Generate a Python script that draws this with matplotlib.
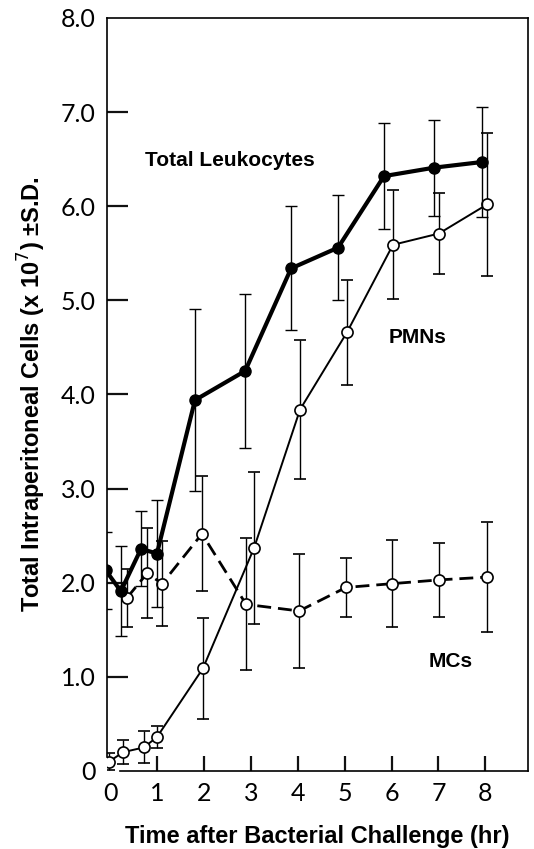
import matplotlib
matplotlib.use("Agg")
import matplotlib.pyplot as plt

# time points (hr) as drawn for each curve
total_t = [-0.09, 0.23, 0.66, 1.0, 1.81, 2.88, 3.86, 4.86, 5.84, 6.91, 7.93]
total_v = [2.13, 1.91, 2.36, 2.31, 3.94, 4.25, 5.34, 5.56, 6.32, 6.41, 6.47]
total_sd = [0.41, 0.48, 0.40, 0.57, 0.97, 0.82, 0.66, 0.56, 0.56, 0.51, 0.58]

pmn_t = [-0.02, 0.28, 0.72, 1.0, 1.98, 3.07, 4.05, 5.05, 6.03, 7.01, 8.04]
pmn_v = [0.10, 0.20, 0.25, 0.36, 1.09, 2.37, 3.84, 4.66, 5.59, 5.71, 6.02]
pmn_sd = [0.09, 0.13, 0.17, 0.12, 0.54, 0.81, 0.74, 0.56, 0.58, 0.43, 0.76]

mc_t = [0.36, 0.79, 1.11, 1.96, 2.90, 4.03, 5.03, 6.01, 7.01, 8.04]
mc_v = [1.84, 2.10, 1.99, 2.52, 1.77, 1.70, 1.95, 1.99, 2.03, 2.06]
mc_sd = [0.31, 0.48, 0.45, 0.61, 0.70, 0.61, 0.31, 0.46, 0.39, 0.58]

x_ticks = [1, 2, 3, 4, 5, 6, 7, 8]
x_labels = ["1", "2", "3", "4", "5", "6", "7", "8"]
y_ticks = [1, 2, 3, 4, 5, 6, 7]
y_labels = ["1.0", "2.0", "3.0", "4.0", "5.0", "6.0", "7.0"]
# end labels drawn without a tick mark
y_end_ticks = [0, 8]
y_end_labels = ["0", "8.0"]

fig = plt.figure(figsize=(5.34, 8.49), dpi=100)
ax = fig.add_axes([0.2004, 0.0919, 0.7884, 0.8869])

thin = dict(family="Lato", size=18)
bold = dict(family="Liberation Sans", weight="bold")

# MCs - dashed, open circles
ax.errorbar(mc_t, mc_v, yerr=mc_sd, color="black", lw=2, ls=(0, (5, 2.5)),
            marker="o", ms=8, mfc="white", mec="black", mew=1.2,
            ecolor="black", elinewidth=1, capsize=4, capthick=1, zorder=3)
# PMNs - thin solid, open circles
ax.errorbar(pmn_t, pmn_v, yerr=pmn_sd, color="black", lw=1.4,
            marker="o", ms=8, mfc="white", mec="black", mew=1.2,
            ecolor="black", elinewidth=1, capsize=4, capthick=1, zorder=4)
# Total leukocytes - thick solid, filled circles
ax.errorbar(total_t, total_v, yerr=total_sd, color="black", lw=3,
            marker="o", ms=8, mfc="black", mec="black",
            ecolor="black", elinewidth=1, capsize=4, capthick=1, zorder=5)

ax.set_xlim(-0.065, 8.91)
ax.set_ylim(0, 8)

ax.spines["bottom"].set_bounds(0.22, 8.91)
ax.spines["left"].set_bounds(0.15, 8)
for s in ax.spines.values():
    s.set_linewidth(1.2)

ax.set_yticks(y_ticks)
ax.set_yticklabels(y_labels, **thin)
ax.set_yticks(y_end_ticks, minor=True)
ax.set_yticklabels(y_end_labels, minor=True, **thin)

ax.set_xticks(x_ticks)
ax.set_xticklabels(x_labels, **thin)
ax.set_xticks([0], minor=True)
ax.set_xticklabels(["0"], minor=True, **thin)

ax.tick_params(axis="y", which="major", direction="in", length=15, width=1.6,
               color="#111111", pad=8)
ax.tick_params(axis="x", which="major", direction="in", length=11, width=1.6,
               color="#111111", pad=8)
ax.tick_params(axis="both", which="minor", length=0, pad=8)

ax.set_xlabel("Time after Bacterial Challenge (hr)", fontsize=17, labelpad=14, **bold)
ax.set_ylabel("Total Intraperitoneal Cells (x 10$^7$) \u00b1S.D.", fontsize=17,
              labelpad=9, **bold)

ax.text(2.55, 6.49, "Total Leukocytes", ha="center", va="center", fontsize=15, **bold)
ax.text(6.55, 4.61, "PMNs", ha="center", va="center", fontsize=15, **bold)
ax.text(7.27, 1.16, "MCs", ha="center", va="center", fontsize=15, **bold)

fig.savefig("out.png", dpi=100)
